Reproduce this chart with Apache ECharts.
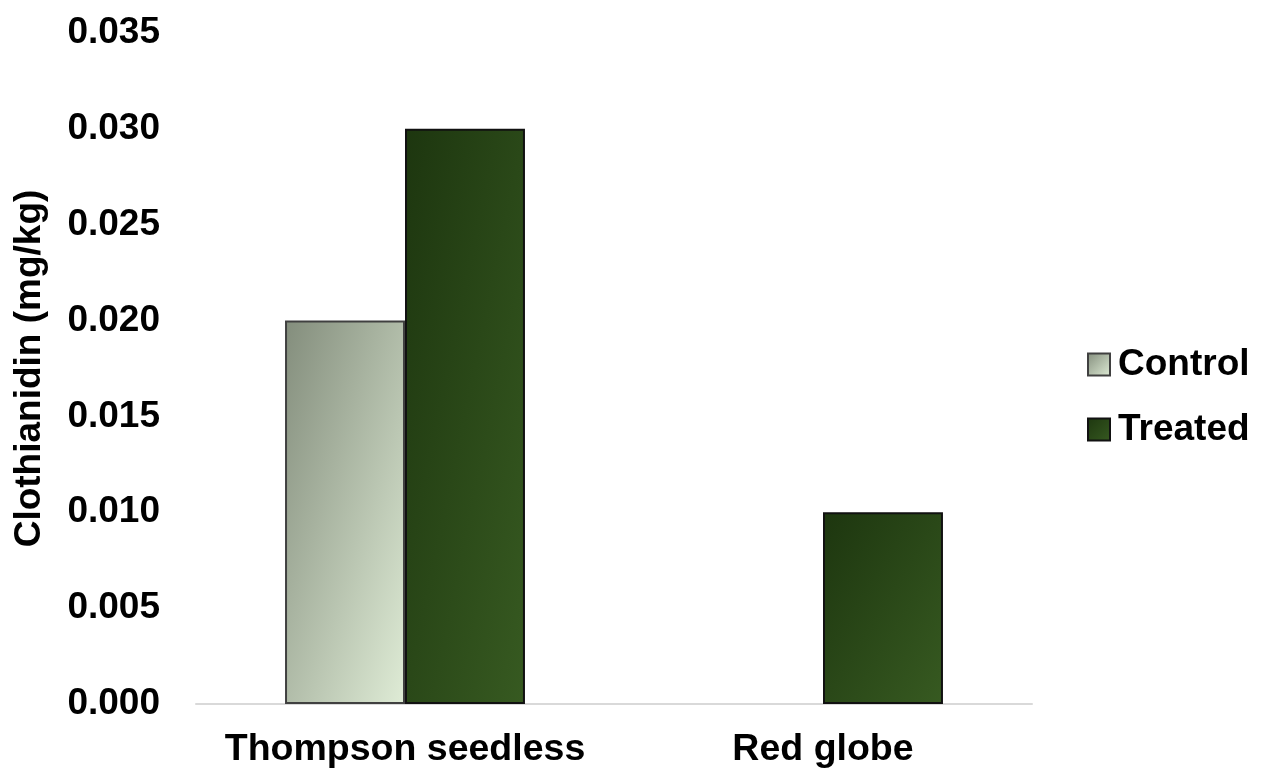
<!DOCTYPE html>
<html>
<head>
<meta charset="utf-8">
<script src="https://cdn.jsdelivr.net/npm/echarts@6/dist/echarts.min.js"></script>
<style>
    html, body { margin: 0; padding: 0; background: #fff; }
    #chart { width: 1276px; height: 772px; }
</style>
</head>
<body>
<div id="chart"></div>
<script>
// data
var categories = ['Thompson seedless', 'Red globe'];
var controlVals = [0.020, 0];
var treatedVals = [0.030, 0.010];
var yTicks = { min: 0, max: 0.035, step: 0.005 };

var fontFam = '"Liberation Sans", Arial, sans-serif';

var chart = echarts.init(document.getElementById('chart'));

// diagonal shading like the office-chart gradient: corner to corner in pixel space
function shade(v, c0, c1) {
    var h = v / yTicks.max * 671, w = 120;
    var s = h * h + w * w;
    return new echarts.graphic.LinearGradient(0, 0, 2 * h * h / s, 2 * w * w / s, [
        { offset: 0, color: c0 },
        { offset: 1, color: c1 }
    ]);
}

var option = {
    backgroundColor: '#fff',
    textStyle: { fontFamily: fontFam },
    grid: { left: 196, right: 244, top: 33, bottom: 68 },
    legend: {
        orient: 'vertical',
        left: 1082,
        top: 341,
        itemWidth: 22,
        itemHeight: 22,
        itemGap: 28,
        icon: 'rect',
        textStyle: { fontSize: 37, fontWeight: 'bold', color: '#000', fontFamily: fontFam, padding: [0, 0, 0, 3] },
        data: ['Control', 'Treated']
    },
    xAxis: {
        type: 'category',
        data: categories,
        axisLine: { lineStyle: { color: '#d9d9d9', width: 2 } },
        axisTick: { show: false },
        axisLabel: { fontSize: 37.5, fontWeight: 'bold', color: '#000', margin: 27, interval: 0 }
    },
    yAxis: {
        type: 'value',
        min: yTicks.min,
        max: yTicks.max,
        interval: yTicks.step,
        name: 'Clothianidin (mg/kg)',
        nameLocation: 'middle',
        nameGap: 148,
        nameTextStyle: { fontSize: 37, fontWeight: 'bold', color: '#000' },
        axisLine: { show: false },
        axisTick: { show: false },
        splitLine: { show: false },
        axisLabel: {
            fontSize: 37, fontWeight: 'bold', color: '#000', margin: 36,
            formatter: function (v) { return v.toFixed(3); }
        }
    },
    series: [
        {
            name: 'Control',
            type: 'bar',
            barGap: '0%',
            barCategoryGap: '42.6%',
            data: controlVals.map(function (v) {
                if (v === 0) return { value: v, itemStyle: { borderWidth: 0 } };
                return { value: v, itemStyle: { color: shade(v, '#838d7c', '#dfecd6') } };
            }),
            itemStyle: {
                color: new echarts.graphic.LinearGradient(0, 0, 1, 1, [
                    { offset: 0, color: '#838d7c' },
                    { offset: 1, color: '#dfecd6' }
                ]),
                borderColor: '#404040',
                borderWidth: 2
            }
        },
        {
            name: 'Treated',
            type: 'bar',
            data: treatedVals.map(function (v) {
                return { value: v, itemStyle: { color: shade(v, '#1d360f', '#375a21') } };
            }),
            itemStyle: {
                color: new echarts.graphic.LinearGradient(0, 0, 1, 1, [
                    { offset: 0, color: '#1d360f' },
                    { offset: 1, color: '#375a21' }
                ]),
                borderColor: '#111',
                borderWidth: 2
            }
        }
    ]
};

chart.setOption(option);
</script>
</body>
</html>
